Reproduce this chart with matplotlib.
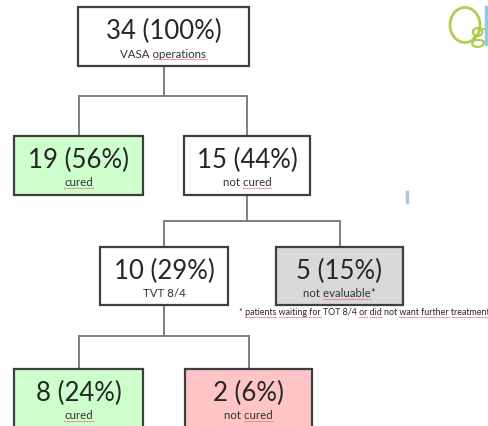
import matplotlib
matplotlib.use("Agg")
import matplotlib.pyplot as plt
from matplotlib.patches import Rectangle, Ellipse

# ---- data ----
counts = [34, 19, 15, 10, 5, 8, 2]
percents = [100, 56, 44, 29, 15, 24, 6]
sublabels = ["VASA operations", "cured", "not cured", "TVT 8/4",
             "not evaluable*", "cured", "not cured"]
underlined = [["operations"], ["cured"], ["cured"], [], ["evaluable"], ["cured"], ["cured"]]
footnote = "* patients waiting for TOT 8/4 or did not want further treatment"
foot_underlined = ["patients", "waiting", "for", "or", "did", "want", "further", "treatment"]

# ---- layout (pixel space) ----
boxes = [(78, 8, 171, 59), (14, 137, 129, 59), (184, 137, 126, 59),
         (100, 248, 128, 58), (276, 248, 127, 58), (14, 370, 129, 70),
         (185, 370, 127, 70)]
fills = ["white", "#ccffcc", "white", "white", "#d9d9d9", "#ccffcc", "#ffc4c4"]
edges = [(0, [1, 2], 97), (2, [3, 4], 222), (3, [5, 6], 337)]

W, H = 489, 427
fig = plt.figure(figsize=(W / 100, H / 100), dpi=100)
ax = fig.add_axes([0, 0, 1, 1])
ax.set_xlim(0, W)
ax.set_ylim(H, 0)
ax.axis("off")
renderer = fig.canvas.get_renderer()

font = ["Lato", "DejaVu Sans"]


def cx(b):
    return b[0] + b[2] / 2


def text_width(s, size):
    t = ax.text(0, 0, s, fontsize=size, family=font)
    w = t.get_window_extent(renderer).width
    t.remove()
    return w


def squiggle(text, words, x_left, y, size):
    for w in words:
        i = text.find(" " + w) + 1 if (" " + w) in text else text.find(w)
        x0 = x_left + text_width(text[:i], size) if i > 0 else x_left
        ww = text_width(w, size)
        ax.plot([x0, x0 + ww], [y, y], color="#f07878", lw=0.8, alpha=0.7, zorder=3)


for p, kids, ym in edges:
    pb = boxes[p]
    ax.plot([cx(pb), cx(pb)], [pb[1] + pb[3], ym], color="#7f7f7f", lw=1.4, zorder=1)
    xs = [cx(boxes[k]) for k in kids]
    ax.plot([min(xs), max(xs)], [ym, ym], color="#7f7f7f", lw=1.4, zorder=1)
    for k in kids:
        ax.plot([cx(boxes[k])] * 2, [ym, boxes[k][1]], color="#7f7f7f", lw=1.4, zorder=1)

sub_size = 8.3
for b, f, n, pc, s, u in zip(boxes, fills, counts, percents, sublabels, underlined):
    ax.add_patch(Rectangle((b[0], b[1]), b[2], b[3], facecolor=f,
                           edgecolor="#3f3f3f", lw=1.6, zorder=2))
    ax.text(cx(b), b[1] + 23, f"{n} ({pc}%)", ha="center", va="center",
            fontsize=18.5, family=font, color="#262626", zorder=3)
    ax.text(cx(b), b[1] + 46, s, ha="center", va="center",
            fontsize=sub_size, family=font, color="#333333", zorder=3)
    sw = text_width(s, sub_size)
    squiggle(s, u, cx(b) - sw / 2, b[1] + 52, sub_size)

foot_size = 6.4
ax.text(239, 313, footnote, ha="left", va="center", fontsize=foot_size,
        family=font, color="#262626")
squiggle(footnote, foot_underlined, 239, 317.5, foot_size)

# logo
ax.add_patch(Ellipse((465, 26), 30, 35, facecolor="none", edgecolor="#a8c83c",
                     lw=2.0, alpha=0.9))
ax.text(478, 34, "g", ha="center", va="center", fontsize=22,
        family=font, color="#a8c83c", alpha=0.9)
ax.plot([486, 486], [8, 45], color="#5ab4e6", lw=2.5, alpha=0.7)
ax.plot([407, 407], [193, 203], color="#9fb8d8", lw=2.5, alpha=0.8)

fig.savefig("out.png", dpi=100)
